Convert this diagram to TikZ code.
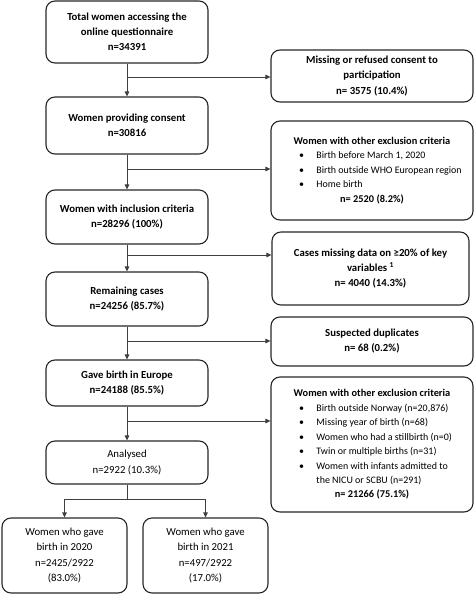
\documentclass[tikz,border=0pt]{standalone}
\usepackage{fontspec}
\setmainfont{Carlito}
\usetikzlibrary{arrows.meta}
\newcommand{\bitem}[1]{\makebox[146bp][l]{\fontsize{10}{14.5}\selectfont\mdseries\textbullet\hspace{12.5bp}#1}}
\newcommand{\bcont}[1]{\makebox[146bp][l]{\fontsize{10}{14.5}\selectfont\mdseries\phantom{\textbullet}\hspace{12.5bp}#1}}
\begin{document}
\begin{tikzpicture}[x=1bp,y=-1bp,
  box/.style={draw=black!85, line width=1.1bp, rounded corners=9bp, inner sep=0pt, align=center,
    font=\fontsize{10.8}{15.3}\selectfont},
  lbox/.style={box, font=\fontsize{10.8}{15.3}\selectfont\bfseries},
  rbox/.style={box, font=\fontsize{10.8}{14.5}\selectfont\bfseries},
  lbbox/.style={box, font=\fontsize{10.4}{14.5}\selectfont\bfseries},
  conn/.style={draw=black!75, line width=0.9bp},
  arr/.style={conn, -{Triangle[length=5bp,width=4.5bp]}}]
\useasboundingbox (0,0) rectangle (474,595);
% left column
\node[lbox, minimum width=162bp, minimum height=62bp] (l1) at (127,32)
  {Total women accessing the\\online questionnaire\\n=34391};
\node[lbox, minimum width=162bp, minimum height=57bp] (l2) at (127,125.5)
  {Women providing consent\\n=30816};
\node[lbox, minimum width=162bp, minimum height=54bp] (l3) at (127,217)
  {Women with inclusion criteria\\n=28296 (100\%)};
\node[lbox, minimum width=162bp, minimum height=54bp] (l4) at (127,299)
  {Remaining cases\\n=24256 (85.7\%)};
\node[lbox, minimum width=162bp, minimum height=46bp] (l5) at (127,383)
  {Gave birth in Europe\\n=24188 (85.5\%)};
\node[box, minimum width=162bp, minimum height=43bp] (l6) at (127,462.5)
  {Analysed\\n=2922 (10.3\%)};
\node[box, minimum width=125bp, minimum height=75bp] (b1) at (64.5,555.5)
  {Women who gave\\birth in 2020\\n=2425/2922\\(83.0\%)};
\node[box, minimum width=125bp, minimum height=75bp] (b2) at (205.5,555.5)
  {Women who gave\\birth in 2021\\n=497/2922\\(17.0\%)};
% right column
\node[rbox, minimum width=202bp, minimum height=52bp, font=\fontsize{10.8}{15.5}\selectfont\bfseries] (r1) at (372,76)
  {Missing or refused consent to\\participation\\n= 3575 (10.4\%)};
\node[lbbox, minimum width=202bp, minimum height=99bp] (r2) at (372,170.5)
  {Women with other exclusion criteria\\
   \bitem{Birth before March 1, 2020}\\
   \bitem{Birth outside WHO European region}\\
   \bitem{Home birth}\\
   n= 2520 (8.2\%)};
\node[rbox, minimum width=197bp, minimum height=73bp, font=\fontsize{10.8}{15}\selectfont\bfseries] (r3) at (370.5,268.5)
  {Cases missing data on ≥20\% of key\\variables \textsuperscript{1}\\n= 4040 (14.3\%)};
\node[rbox, minimum width=202bp, minimum height=49bp, font=\fontsize{10.8}{15}\selectfont\bfseries] (r4) at (372,341.5)
  {Suspected duplicates\\n= 68 (0.2\%)};
\node[lbbox, minimum width=202bp, minimum height=135bp] (r5) at (372,444.5)
  {Women with other exclusion criteria\\
   \bitem{Birth outside Norway (n=20,876)}\\
   \bitem{Missing year of birth (n=68)}\\
   \bitem{Women who had a stillbirth (n=0)}\\
   \bitem{Twin or multiple births (n=31)}\\
   \bitem{Women with infants admitted to}\\
   \bcont{the NICU or SCBU (n=291)}\\
   n= 21266 (75.1\%)};
% branch points
\coordinate (c1) at (127,77);
\coordinate (c2) at (127,169);
\coordinate (c3) at (127,255);
\coordinate (c4) at (127,341);
\coordinate (c5) at (127,421);
\coordinate (c6) at (127,499);
% main flow
\draw[arr] (l1) -- (l2);
\draw[arr] (l2) -- (l3);
\draw[arr] (l3) -- (l4);
\draw[arr] (l4) -- (l5);
\draw[arr] (l5) -- (l6);
\draw[conn] (l6.south) -- (c6);
\draw[arr] (c6) -| (b1.north);
\draw[arr] (c6) -| (b2.north);
% side exits
\draw[arr] (c1) -- (c1 -| r1.west);
\draw[arr] (c2) -- (c2 -| r2.west);
\draw[arr] (c3) -- (c3 -| r3.west);
\draw[arr] (c4) -- (c4 -| r4.west);
\draw[arr] (c5) -- (c5 -| r5.west);
\end{tikzpicture}
\end{document}
